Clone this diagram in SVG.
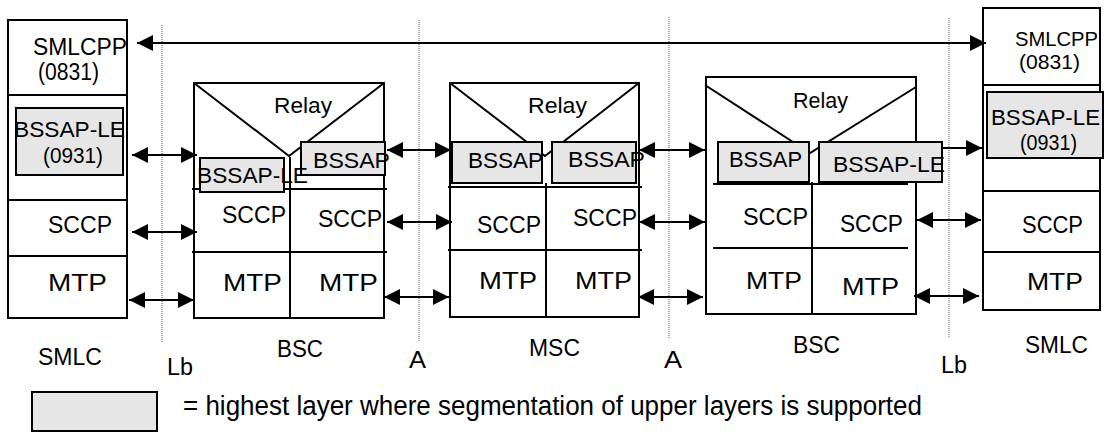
<svg xmlns="http://www.w3.org/2000/svg" width="1113" height="432" viewBox="0 0 1113 432">
<style>
.box{fill:#fff;stroke:#000;stroke-width:2}
.ln{fill:none;stroke:#000;stroke-width:2}
.seg{fill:#e6e6e6;stroke:#000;stroke-width:2}
.dot{fill:none;stroke:#555;stroke-width:1;stroke-dasharray:1 1}
text{font-family:"Liberation Sans",Arial,sans-serif;font-size:23px;fill:#000}
.s{font-size:22px}
.t{font-size:21px}
.con{fill:none;stroke:#000;stroke-width:2}
.both{marker-start:url(#ah);marker-end:url(#ah)}
.end{marker-end:url(#ah)}
</style>
<defs>
<marker id="ah" viewBox="0 0 16 16" refX="16" refY="8" markerWidth="16" markerHeight="16" markerUnits="userSpaceOnUse" orient="auto-start-reverse">
<path d="M0,0 L16,8 L0,16 Z" fill="#000"/>
</marker>
</defs>
<rect width="1113" height="432" fill="#fff"/>

<g id="interfaces">
<line class="dot" x1="162" y1="25" x2="162" y2="343"/>
<line class="dot" x1="419" y1="20" x2="419" y2="342"/>
<line class="dot" x1="669" y1="17" x2="669" y2="339"/>
<line class="dot" x1="949" y1="18" x2="949" y2="337"/>
<text x="167" y="375" textLength="26" lengthAdjust="spacingAndGlyphs">Lb</text>
<text x="409" y="368" textLength="17" lengthAdjust="spacingAndGlyphs">A</text>
<text x="664" y="368" textLength="18" lengthAdjust="spacingAndGlyphs">A</text>
<text x="941" y="373" textLength="26" lengthAdjust="spacingAndGlyphs">Lb</text>
</g>

<g id="smlc-left">
<rect class="box" x="8" y="20" width="119" height="298"/>
<line class="ln" x1="8" y1="95" x2="127" y2="95"/>
<line class="ln" x1="8" y1="200" x2="127" y2="200"/>
<line class="ln" x1="8" y1="256" x2="127" y2="256"/>
<rect class="seg" x="16" y="108" width="107" height="67"/>
<text x="33" y="55" textLength="94" lengthAdjust="spacingAndGlyphs">SMLCPP</text>
<text x="38" y="80" textLength="61" lengthAdjust="spacingAndGlyphs">(0831)</text>
<text class="s" x="14" y="137" textLength="111" lengthAdjust="spacingAndGlyphs">BSSAP-LE</text>
<text class="s" x="43" y="163" textLength="60" lengthAdjust="spacingAndGlyphs">(0931)</text>
<text x="48" y="233" textLength="64" lengthAdjust="spacingAndGlyphs">SCCP</text>
<text x="48" y="291" textLength="59" lengthAdjust="spacingAndGlyphs">MTP</text>
<text x="38" y="365" textLength="64" lengthAdjust="spacingAndGlyphs">SMLC</text>
</g>

<g id="bsc-left">
<rect class="box" x="194" y="83" width="190" height="235"/>
<polyline class="ln" points="194,83 289,156 384,83"/>
<line class="ln" x1="290" y1="157" x2="290" y2="318"/>
<line class="ln" x1="192" y1="189" x2="387" y2="189"/>
<line class="ln" x1="192" y1="252" x2="387" y2="252"/>
<rect class="seg" x="200" y="158" width="84" height="34"/>
<rect class="seg" x="301" y="142" width="84" height="33"/>
<text class="s" x="274" y="113" textLength="58" lengthAdjust="spacingAndGlyphs">Relay</text>
<text class="s" x="313" y="168" textLength="77" lengthAdjust="spacingAndGlyphs">BSSAP</text>
<text class="s" x="197" y="183" textLength="111" lengthAdjust="spacingAndGlyphs">BSSAP-LE</text>
<text x="222" y="223" textLength="64" lengthAdjust="spacingAndGlyphs">SCCP</text>
<text x="318" y="227" textLength="64" lengthAdjust="spacingAndGlyphs">SCCP</text>
<text x="223" y="291" textLength="59" lengthAdjust="spacingAndGlyphs">MTP</text>
<text x="319" y="291" textLength="59" lengthAdjust="spacingAndGlyphs">MTP</text>
<text x="277" y="357" textLength="46" lengthAdjust="spacingAndGlyphs">BSC</text>
</g>

<g id="msc">
<rect class="box" x="450" y="83" width="189" height="234"/>
<polyline class="ln" points="450,83 545,156 639,83"/>
<line class="ln" x1="546" y1="183" x2="546" y2="317"/>
<line class="ln" x1="448" y1="187" x2="642" y2="187"/>
<line class="ln" x1="448" y1="250" x2="642" y2="250"/>
<rect class="seg" x="452" y="142" width="90" height="41"/>
<rect class="seg" x="552" y="142" width="84" height="41"/>
<text class="s" x="528" y="113" textLength="59" lengthAdjust="spacingAndGlyphs">Relay</text>
<text class="s" x="468" y="168" textLength="75" lengthAdjust="spacingAndGlyphs">BSSAP</text>
<text class="s" x="568" y="167" textLength="77" lengthAdjust="spacingAndGlyphs">BSSAP</text>
<text x="477" y="233" textLength="64" lengthAdjust="spacingAndGlyphs">SCCP</text>
<text x="573" y="226" textLength="64" lengthAdjust="spacingAndGlyphs">SCCP</text>
<text x="479" y="289" textLength="58" lengthAdjust="spacingAndGlyphs">MTP</text>
<text x="575" y="289" textLength="57" lengthAdjust="spacingAndGlyphs">MTP</text>
<text x="529" y="356" textLength="51" lengthAdjust="spacingAndGlyphs">MSC</text>
</g>

<g id="bsc-right">
<rect class="box" x="706" y="77" width="210" height="237"/>
<polyline class="ln" points="705,85 810,153 916,87"/>
<line class="ln" x1="812" y1="182" x2="812" y2="314"/>
<line class="ln" x1="713" y1="184" x2="908" y2="184"/>
<line class="ln" x1="713" y1="248" x2="908" y2="248"/>
<rect class="seg" x="718" y="142" width="91" height="40"/>
<rect class="seg" x="819" y="142" width="123" height="40"/>
<text class="s" x="793" y="108" textLength="55" lengthAdjust="spacingAndGlyphs">Relay</text>
<text class="s" x="729" y="167" textLength="73" lengthAdjust="spacingAndGlyphs">BSSAP</text>
<text class="s" x="833" y="172" textLength="112" lengthAdjust="spacingAndGlyphs">BSSAP-LE</text>
<text x="743" y="225" textLength="65" lengthAdjust="spacingAndGlyphs">SCCP</text>
<text x="840" y="232" textLength="63" lengthAdjust="spacingAndGlyphs">SCCP</text>
<text x="746" y="289" textLength="56" lengthAdjust="spacingAndGlyphs">MTP</text>
<text x="842" y="295" textLength="57" lengthAdjust="spacingAndGlyphs">MTP</text>
<text x="793" y="353" textLength="47" lengthAdjust="spacingAndGlyphs">BSC</text>
</g>

<g id="smlc-right">
<rect class="box" x="983" y="8" width="117" height="302"/>
<line class="ln" x1="983" y1="85" x2="1100" y2="85"/>
<line class="ln" x1="983" y1="191" x2="1100" y2="191"/>
<line class="ln" x1="983" y1="252" x2="1100" y2="252"/>
<rect class="seg" x="987" y="92" width="116" height="66"/>
<text class="t" x="1015" y="46" textLength="83" lengthAdjust="spacingAndGlyphs">SMLCPP</text>
<text class="t" x="1019" y="69" textLength="61" lengthAdjust="spacingAndGlyphs">(0831)</text>
<text class="s" x="991" y="125" textLength="109" lengthAdjust="spacingAndGlyphs">BSSAP-LE</text>
<text class="s" x="1020" y="150" textLength="57" lengthAdjust="spacingAndGlyphs">(0931)</text>
<text x="1022" y="233" textLength="61" lengthAdjust="spacingAndGlyphs">SCCP</text>
<text x="1027" y="290" textLength="56" lengthAdjust="spacingAndGlyphs">MTP</text>
<text x="1025" y="353" textLength="63" lengthAdjust="spacingAndGlyphs">SMLC</text>
</g>

<g id="legend">
<rect class="seg" x="32" y="392" width="125" height="39"/>
<text x="183" y="415" style="font-size:27px" textLength="739" lengthAdjust="spacingAndGlyphs">= highest layer where segmentation of upper layers  is supported</text>
</g>

<g id="connectors">
<line class="con both" x1="137" y1="43" x2="986" y2="43"/>
<line class="con both" x1="132" y1="155" x2="197" y2="155"/>
<line class="con both" x1="132" y1="232" x2="197" y2="232"/>
<line class="con both" x1="129" y1="300" x2="194" y2="300"/>
<line class="con both" x1="387" y1="150" x2="451" y2="150"/>
<line class="con both" x1="387" y1="222" x2="452" y2="222"/>
<line class="con both" x1="384" y1="297" x2="449" y2="297"/>
<line class="con both" x1="639" y1="150" x2="705" y2="150"/>
<line class="con both" x1="639" y1="222" x2="705" y2="222"/>
<line class="con both" x1="638" y1="297" x2="703" y2="297"/>
<line class="con end" x1="943" y1="148" x2="982" y2="148"/>
<line class="con both" x1="917" y1="220" x2="981" y2="220"/>
<line class="con both" x1="914" y1="296" x2="979" y2="296"/>
</g>
</svg>
